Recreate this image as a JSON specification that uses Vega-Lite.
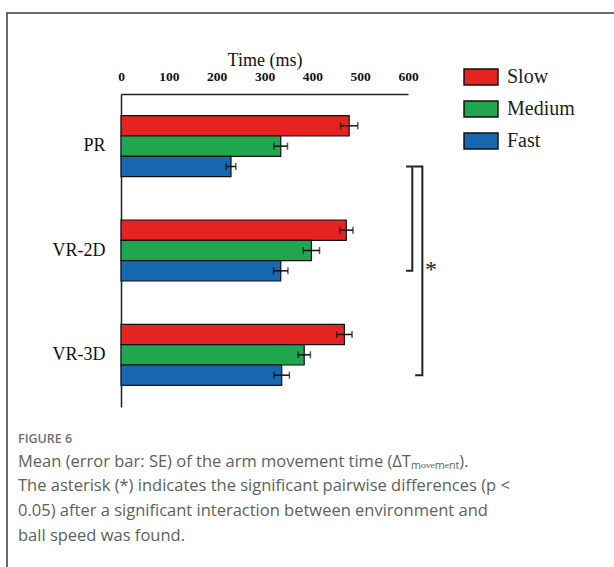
{
  "$schema": "https://vega.github.io/schema/vega-lite/v6.json",
  "autosize": {"type": "none"},
  "padding": {"left": 7, "top": 13, "right": 0, "bottom": 0},
  "width": 607,
  "height": 554,
  "background": "white",
  "config": {
    "view": {"stroke": "#3a3a3a", "strokeWidth": 1.5, "strokeDash": [607, 1161, 554]},
    "legend": {
      "orient": "none",
      "legendX": 459,
      "legendY": 49,
      "padding": 0,
      "symbolType": "M-1.2,-0.566H1.2V0.566H-1.2Z",
      "symbolSize": 800,
      "symbolStrokeColor": "#111",
      "symbolStrokeWidth": 1.5,
      "symbolOpacity": 1,
      "labelOffset": 11,
      "rowPadding": 5,
      "labelFont": "Liberation Serif",
      "labelFontSize": 20,
      "labelColor": "#222"
    }
  },
  "title": {
    "text": "FIGURE 6",
    "subtitle": [
      "Mean (error bar: SE) of the arm movement time (ΔTₘₒᵥₑₘₑₙₜ).",
      "The asterisk (*) indicates the significant pairwise differences (p <",
      "0.05) after a significant interaction between environment and",
      "ball speed was found."
    ],
    "orient": "bottom",
    "anchor": "start",
    "frame": "group",
    "dx": 11,
    "dy": -138,
    "font": "Open Sans",
    "fontSize": 12.5,
    "fontWeight": 600,
    "color": "#707070",
    "subtitleFont": "Open Sans",
    "subtitleFontSize": 16.5,
    "subtitleColor": "#606060",
    "subtitleLineHeight": 24.8,
    "subtitlePadding": 8
  },
  "datasets": {
    "bars": [
      {"env": "PR", "speed": "Slow", "mean": 477, "lo": 459, "hi": 495},
      {"env": "PR", "speed": "Medium", "mean": 334, "lo": 320, "hi": 348},
      {"env": "PR", "speed": "Fast", "mean": 230, "lo": 220, "hi": 240},
      {"env": "VR-2D", "speed": "Slow", "mean": 471, "lo": 457, "hi": 485},
      {"env": "VR-2D", "speed": "Medium", "mean": 398, "lo": 381, "hi": 415},
      {"env": "VR-2D", "speed": "Fast", "mean": 334, "lo": 319, "hi": 349},
      {"env": "VR-3D", "speed": "Slow", "mean": 467, "lo": 451, "hi": 483},
      {"env": "VR-3D", "speed": "Medium", "mean": 383, "lo": 370, "hi": 396},
      {"env": "VR-3D", "speed": "Fast", "mean": 336, "lo": 320, "hi": 352}
    ],
    "brackets": [
      {"bracket": "a", "ord": 1, "x": 596, "env": "PR", "speed": "Fast"},
      {"bracket": "a", "ord": 2, "x": 609, "env": "PR", "speed": "Fast"},
      {"bracket": "a", "ord": 3, "x": 609, "env": "VR-2D", "speed": "Fast"},
      {"bracket": "a", "ord": 4, "x": 596, "env": "VR-2D", "speed": "Fast"},
      {"bracket": "b", "ord": 1, "x": 611, "env": "PR", "speed": "Fast"},
      {"bracket": "b", "ord": 2, "x": 630, "env": "PR", "speed": "Fast"},
      {"bracket": "b", "ord": 3, "x": 630, "env": "VR-3D", "speed": "Fast"},
      {"bracket": "b", "ord": 4, "x": 615, "env": "VR-3D", "speed": "Fast"}
    ],
    "star": [
      {"x": 648, "env": "VR-2D", "speed": "Fast", "label": "*"}
    ]
  },
  "encoding": {
    "y": {
      "field": "env",
      "type": "nominal",
      "sort": ["PR", "VR-2D", "VR-3D"],
      "scale": {"domain": ["PR", "VR-2D", "VR-3D"], "range": [81, 394], "paddingInner": 0.415, "paddingOuter": 0.2075},
      "axis": {
        "orient": "left",
        "offset": -114,
        "title": null,
        "ticks": false,
        "grid": false,
        "domainColor": "#222",
        "domainWidth": 1.5,
        "labelFont": "Liberation Serif",
        "labelFontSize": 18,
        "labelColor": "#111",
        "labelPadding": 16
      }
    },
    "yOffset": {
      "field": "speed",
      "type": "nominal",
      "sort": ["Slow", "Medium", "Fast"],
      "scale": {"domain": ["Slow", "Medium", "Fast"], "paddingInner": 0, "paddingOuter": 0}
    }
  },
  "layer": [
    {
      "data": {"name": "bars"},
      "mark": {"type": "bar", "stroke": "#111", "strokeWidth": 1.2, "clip": false},
      "encoding": {
        "x": {
          "field": "mean",
          "type": "quantitative",
          "scale": {"domain": [0, 600], "range": [114, 401], "nice": false},
          "axis": {
            "orient": "top",
            "offset": -81,
            "title": "Time (ms)",
            "titleFont": "Liberation Serif",
            "titleFontSize": 18,
            "titleFontWeight": "normal",
            "titleColor": "#111",
            "titlePadding": 0,
            "values": [0, 100, 200, 300, 400, 500, 600],
            "labelFlush": false,
            "ticks": false,
            "grid": false,
            "domainColor": "#222",
            "domainWidth": 1.5,
            "labelFont": "Liberation Serif",
            "labelFontSize": 13.5,
            "labelFontWeight": "bold",
            "labelColor": "#111",
            "labelPadding": 11
          }
        },
        "color": {
          "field": "speed",
          "type": "nominal",
          "sort": ["Slow", "Medium", "Fast"],
          "scale": {"domain": ["Slow", "Medium", "Fast"], "range": ["#E52421", "#1FA64E", "#1767B1"]},
          "legend": {"title": null}
        }
      }
    },
    {
      "data": {"name": "bars"},
      "mark": {"type": "rule", "color": "#111", "strokeWidth": 1.5, "clip": false},
      "encoding": {
        "x": {"field": "lo", "type": "quantitative"},
        "x2": {"field": "hi"}
      }
    },
    {
      "data": {"name": "bars"},
      "mark": {"type": "tick", "orient": "vertical", "color": "#111", "size": 7, "thickness": 1.5, "clip": false},
      "encoding": {
        "x": {"field": "lo", "type": "quantitative"}
      }
    },
    {
      "data": {"name": "bars"},
      "mark": {"type": "tick", "orient": "vertical", "color": "#111", "size": 7, "thickness": 1.5, "clip": false},
      "encoding": {
        "x": {"field": "hi", "type": "quantitative"}
      }
    },
    {
      "data": {"name": "brackets"},
      "mark": {"type": "line", "color": "#222", "strokeWidth": 2, "clip": false, "interpolate": "linear"},
      "encoding": {
        "x": {"field": "x", "type": "quantitative"},
        "detail": {"field": "bracket", "type": "nominal"},
        "order": {"field": "ord", "type": "quantitative"}
      }
    },
    {
      "data": {"name": "star"},
      "mark": {"type": "text", "font": "Liberation Serif", "fontSize": 24, "color": "#222", "baseline": "alphabetic", "align": "center", "dy": 6, "clip": false},
      "encoding": {
        "x": {"field": "x", "type": "quantitative"},
        "text": {"field": "label"}
      }
    }
  ]
}
